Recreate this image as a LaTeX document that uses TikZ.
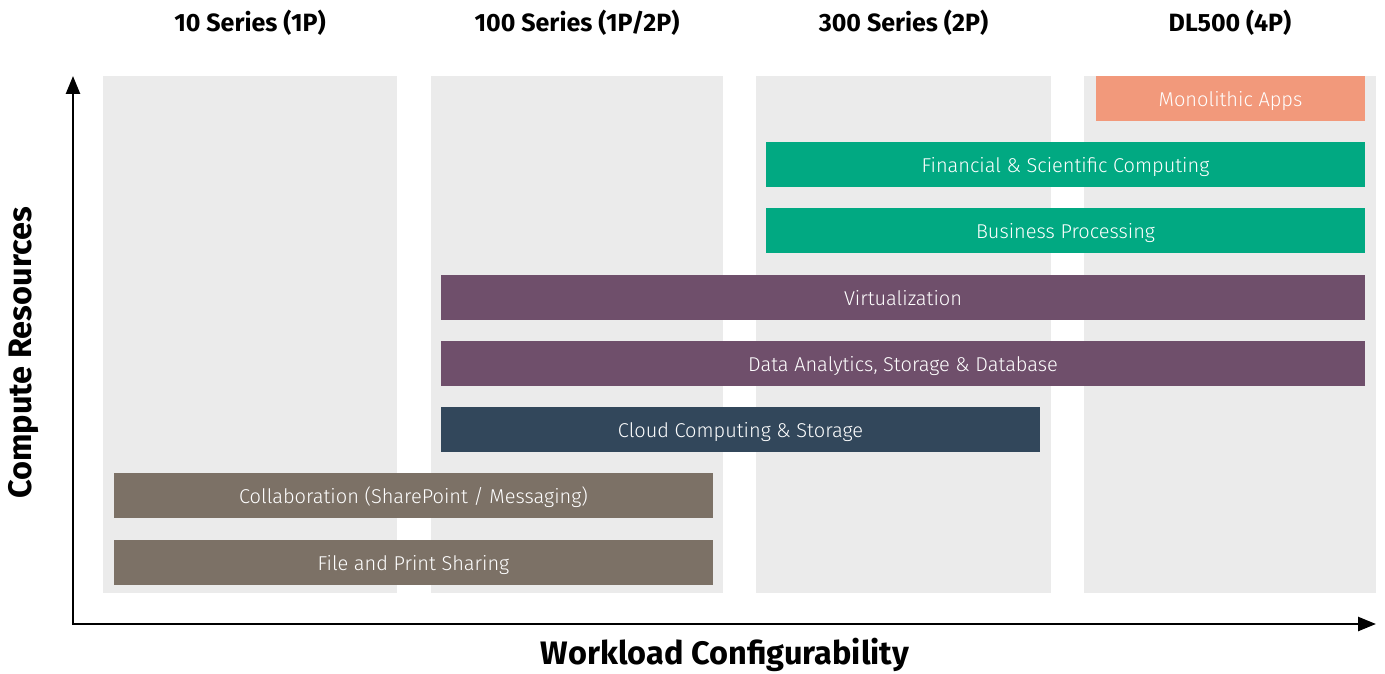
\documentclass[tikz,border=0pt]{standalone}
\usepackage{fontspec}
\setmainfont{Fira Sans}
\newfontfamily\lightfont{Fira Sans Light}
\usetikzlibrary{arrows.meta}
\definecolor{colbg}{HTML}{EBEBEB}
\definecolor{corange}{HTML}{F2997B}
\definecolor{cgreen}{HTML}{01A982}
\definecolor{cpurple}{HTML}{6F4F6B}
\definecolor{cnavy}{HTML}{32475B}
\definecolor{cbrown}{HTML}{7C7166}
\tikzset{
  column/.style={fill=colbg, draw=none, inner sep=0pt, minimum height=517pt},
  bar/.style={draw=none, inner sep=0pt, minimum height=45pt, text height=16pt, text depth=0pt, text=white, font=\lightfont\fontsize{20}{24}\selectfont},
  head/.style={font=\bfseries\fontsize{25}{29}\selectfont, text=black},
  axlabel/.style={font=\bfseries\fontsize{32.5}{36}\selectfont, text=black},
  axis/.style={line width=2.5pt, -{Triangle[length=18pt,width=14pt]}}
}
\begin{document}
\begin{tikzpicture}[x=1pt,y=-1pt]
\useasboundingbox (0,0) rectangle (1385,674);
% columns
\node[column, minimum width=294pt] (c1) at (250,334.5) {};
\node[column, minimum width=292pt] (c2) at (577,334.5) {};
\node[column, minimum width=295pt] (c3) at (903.5,334.5) {};
\node[column, minimum width=292pt] (c4) at (1230,334.5) {};
% headings
\node[head] (h1) at (250,23) {10 Series (1P)};
\node[head] (h2) at (577,23) {100 Series (1P/2P)};
\node[head] (h3) at (903.5,23) {300 Series (2P)};
\node[head] (h4) at (1230,23) {DL500 (4P)};
% bars
\node[bar, fill=corange, minimum width=269pt] (mono) at (1230.5,98.5) {Monolithic Apps};
\node[bar, fill=cgreen, minimum width=599pt] (fin) at (1065.5,164.5) {Financial \& Scientific Computing};
\node[bar, fill=cgreen, minimum width=599pt] (bus) at (1065.5,230.5) {Business Processing};
\node[bar, fill=cpurple, minimum width=924pt] (virt) at (903,297.5) {Virtualization};
\node[bar, fill=cpurple, minimum width=924pt] (data) at (903,363.5) {Data Analytics, Storage \& Database};
\node[bar, fill=cnavy, minimum width=599pt] (cloud) at (740.5,429.5) {Cloud Computing \& Storage};
\node[bar, fill=cbrown, minimum width=599pt] (collab) at (413.5,495.5) {Collaboration (SharePoint / Messaging)};
\node[bar, fill=cbrown, minimum width=599pt] (file) at (413.5,562.5) {File and Print Sharing};
% axes
\coordinate (o) at (73,624);
\coordinate (ytip) at (73,76);
\coordinate (xtip) at (1376,624);
\draw[axis] (o) -- (ytip);
\draw[axis] ([xshift=-1.25pt]o) -- (xtip);
\node[axlabel] (xl) at (725,655) {Workload Configurability};
\node[axlabel, rotate=90] (yl) at (24,353) {Compute Resources};
\end{tikzpicture}
\end{document}
